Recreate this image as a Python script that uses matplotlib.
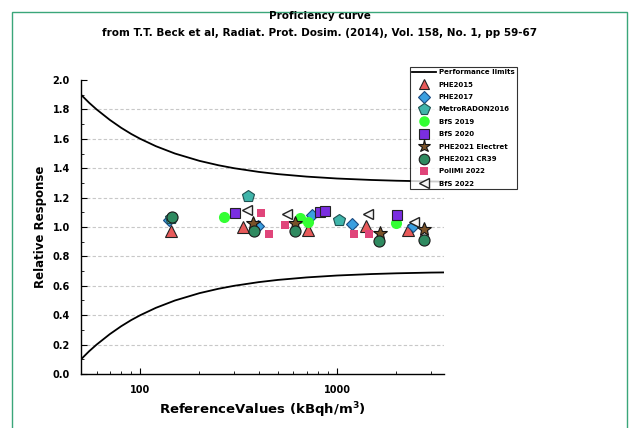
import matplotlib.pyplot as plt
from matplotlib.patches import Rectangle
from matplotlib.ticker import MultipleLocator, FixedLocator, NullFormatter

plt.rcParams['font.family'] = ['Liberation Sans Narrow', 'DejaVu Sans']
plt.rcParams['font.weight'] = 'bold'
plt.rcParams['axes.labelweight'] = 'bold'

# performance limits
lim_x = [50, 55, 60, 70, 80, 90, 100, 120, 150, 200, 250, 300, 400, 500, 700,
         1000, 1500, 2000, 3000, 3500]
lim_up = [1.900, 1.845, 1.800, 1.729, 1.675, 1.633, 1.600, 1.550, 1.500, 1.450,
          1.420, 1.400, 1.375, 1.360, 1.343, 1.330, 1.320, 1.315, 1.310, 1.309]
lim_lo = [0.100, 0.155, 0.200, 0.271, 0.325, 0.367, 0.400, 0.450, 0.500, 0.550,
          0.580, 0.600, 0.625, 0.640, 0.657, 0.670, 0.680, 0.685, 0.690, 0.691]

# results per exercise
phe2015_x = [143, 331, 715, 1400, 2290]
phe2015_y = [0.97, 1.00, 0.98, 1.01, 0.98]
phe2017_x = [140, 398, 750, 1190, 2420]
phe2017_y = [1.05, 1.01, 1.08, 1.02, 1.01]
metro_x = [143, 352, 1020]
metro_y = [1.06, 1.21, 1.045]
bfs19_x = [267, 652, 715, 1990]
bfs19_y = [1.065, 1.06, 1.035, 1.025]
bfs20_x = [303, 815, 873, 2020]
bfs20_y = [1.095, 1.10, 1.11, 1.08]
electret_x = [375, 609, 1646, 2760]
electret_y = [1.03, 1.03, 0.96, 0.985]
cr39_x = [145, 379, 609, 1630, 2760]
cr39_y = [1.07, 0.975, 0.97, 0.905, 0.915]
polimi_x = [410, 453, 545, 1218, 1448]
polimi_y = [1.095, 0.955, 1.015, 0.955, 0.955]
bfs22_x = [348, 557, 1437, 2470]
bfs22_y = [1.115, 1.09, 1.09, 1.035]

fig = plt.figure(figsize=(6.39, 4.28), dpi=100)
ax = fig.add_axes([0.1268, 0.1262, 0.5682, 0.6868])

ax.plot(lim_x, lim_up, color='black', lw=1.3, label='Performance limits', zorder=2)
ax.plot(lim_x, lim_lo, color='black', lw=1.3, zorder=2)

ms = 8
ax.plot(phe2015_x, phe2015_y, '^', ms=ms, mfc='#e85a5a', mec='#222222', mew=0.8, ls='none', label='PHE2015')
ax.plot(phe2017_x, phe2017_y, 'D', ms=ms - 1.5, mfc='#3a9fe0', mec='#1a4a80', mew=0.8, ls='none', label='PHE2017')
ax.plot(metro_x, metro_y, 'p', ms=ms + 1, mfc='#3fb5aa', mec='#1f5050', mew=0.8, ls='none', label='MetroRADON2016')
ax.plot(bfs19_x, bfs19_y, 'o', ms=ms, mfc='#33ff33', mec='#33ff33', mew=0, ls='none', label='BfS 2019')
ax.plot(bfs20_x, bfs20_y, 's', ms=ms - 1, mfc='#7a2ee0', mec='#222222', mew=0.8, ls='none', label='BfS 2020')
ax.plot(electret_x, electret_y, '*', ms=ms + 2, mfc='#7a5228', mec='#111111', mew=0.8, ls='none', label='PHE2021 Electret')
ax.plot(cr39_x, cr39_y, 'o', ms=ms, mfc='#2f8a60', mec='#1a1a1a', mew=0.8, ls='none', label='PHE2021 CR39')
ax.plot(polimi_x, polimi_y, 's', ms=ms - 2.5, mfc='#e0457a', mec='#e0457a', mew=0, ls='none', label='PoliMi 2022')
ax.plot(bfs22_x, bfs22_y, '<', ms=ms - 1, mfc='#f4f4f4', mec='#222222', mew=1.0, ls='none', label='BfS 2022')

ax.set_xscale('log')
ax.set_xlim(50, 3500)
ax.set_ylim(0, 2.0)
ax.yaxis.set_major_locator(MultipleLocator(0.2))
ax.yaxis.set_minor_locator(MultipleLocator(0.1))
ax.xaxis.set_major_locator(FixedLocator([100, 1000]))
ax.set_xticklabels(['100', '1000'])
ax.xaxis.set_minor_locator(FixedLocator([50, 60, 70, 80, 90, 200, 300, 400, 500, 600, 700, 800, 900, 2000, 3000]))
ax.xaxis.set_minor_formatter(NullFormatter())
ax.yaxis.set_major_formatter(plt.FuncFormatter(lambda v, p: '%.1f' % v))

for s in ['top', 'right']:
    ax.spines[s].set_visible(False)
for s in ['left', 'bottom']:
    ax.spines[s].set_linewidth(1.0)
ax.tick_params(which='both', direction='in', labelsize=7)
ax.tick_params(which='major', length=4)
ax.tick_params(which='minor', length=2)
ax.tick_params(axis='x', pad=8)
ax.tick_params(axis='y', pad=8)

for v in [0.2, 0.4, 0.6, 0.8, 1.0, 1.2, 1.4, 1.6, 1.8]:
    ax.axhline(v, color='#c8c8c8', lw=0.8, ls=(0, (3, 2)), zorder=0)

ax.set_xlabel('ReferenceValues (kBqh/m$^3$)', fontsize=9.5, labelpad=4)
ax.set_ylabel('Relative Response', fontsize=8.5, labelpad=4)

fig.text(0.5, 0.955, 'Proficiency curve', ha='center', fontsize=7.5)
fig.text(0.5, 0.915, 'from T.T. Beck et al, Radiat. Prot. Dosim. (2014), Vol. 158, No. 1, pp 59-67',
         ha='center', fontsize=7.5)

leg = fig.legend(loc='upper left', bbox_to_anchor=(0.641, 0.843), fontsize=5, frameon=True,
                 fancybox=False, edgecolor='black', handlelength=3.5, handletextpad=0.4,
                 labelspacing=0.92, borderpad=0.3, markerscale=0.95, borderaxespad=0)
leg.get_frame().set_linewidth(0.8)

# green frame around the page
fig.patches.append(Rectangle((0.019, -0.01), 0.963, 0.982, transform=fig.transFigure,
                             fill=False, edgecolor='#3aa67a', lw=1.0))

fig.savefig('out.png', dpi=100)
